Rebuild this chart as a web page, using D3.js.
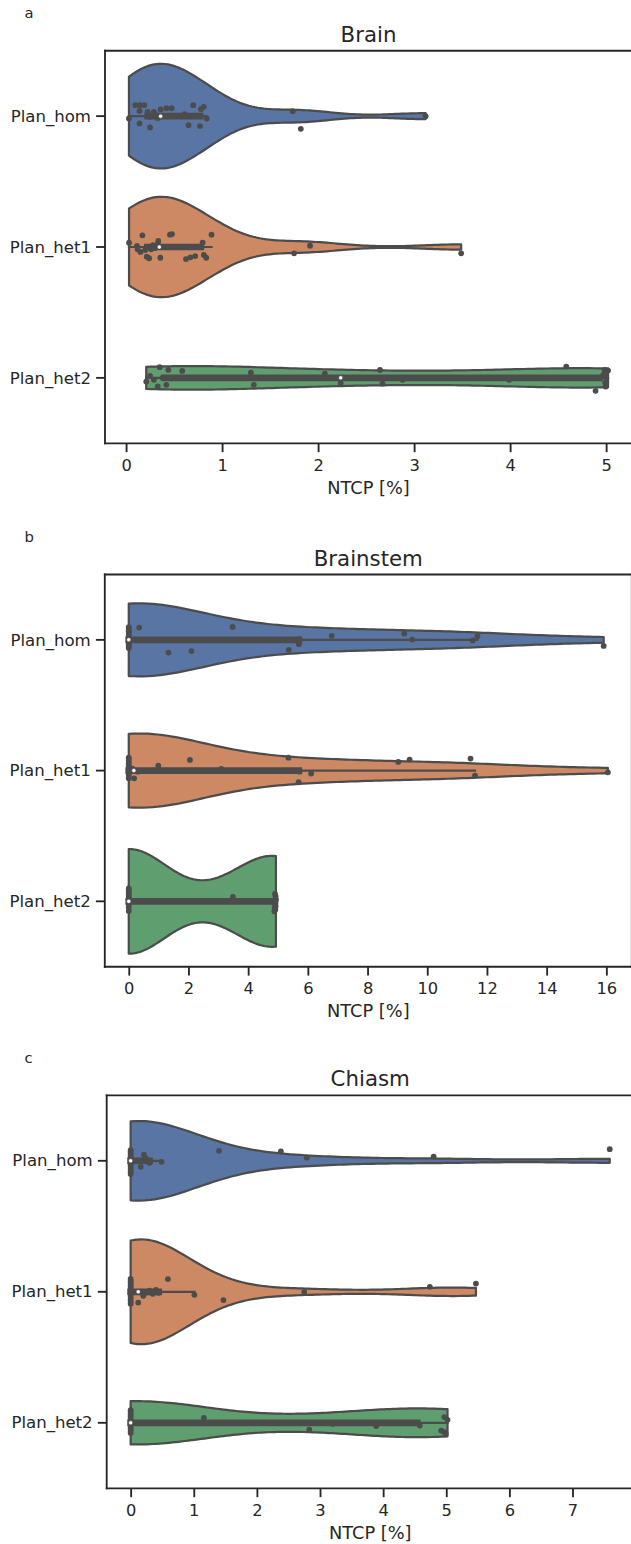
<!DOCTYPE html>
<html>
<head>
<meta charset="utf-8">
<script src="https://cdn.jsdelivr.net/npm/d3@7/dist/d3.min.js"></script>
<style>
html,body{margin:0;padding:0;background:#fff;}
svg{display:block;}
text{font-family:"DejaVu Sans",sans-serif;fill:#262626;}
</style>
</head>
<body>
<svg id="chart" width="631" height="1544"></svg>
<script>
// ---------------- data ----------------
const categories = ["Plan_hom", "Plan_het1", "Plan_het2"];
const panelLetters = ["a", "b", "c"];
const panelTitles = ["Brain", "Brainstem", "Chiasm"];
const xAxisLabel = "NTCP [%]";
const brainTicks = [0, 1, 2, 3, 4, 5];
const brainstemTicks = [0, 2, 4, 6, 8, 10, 12, 14, 16];
const chiasmTicks = [0, 1, 2, 3, 4, 5, 6, 7];
const violinColors = ["#5975a4", "#cc8963", "#5f9e6e"];

// Brain
const brainHom = [0.03, 0.097, 0.14, 0.14, 0.146, 0.19, 0.225, 0.25, 0.25, 0.29, 0.31, 0.33, 0.36, 0.42, 0.475, 0.61, 0.65, 0.70, 0.77, 0.78, 0.81, 0.84, 1.736, 1.82, 3.12];
const brainHomJitter = [0.018, -0.084, -0.040, 0.056, -0.084, -0.084, -0.033, 0.005, 0.086, -0.033, -0.008, 0.015, -0.051, -0.061, -0.061, -0.015, 0.069, -0.084, 0.076, -0.053, -0.071, 0.018, -0.038, 0.097, 0.0];
const brainHet1 = [0.031, 0.114, 0.12, 0.15, 0.17, 0.2, 0.215, 0.24, 0.26, 0.28, 0.30, 0.33, 0.335, 0.357, 0.457, 0.478, 0.624, 0.67, 0.72, 0.797, 0.81, 0.835, 0.89, 1.75, 1.916, 3.49];
const brainHet1Jitter = [-0.033, -0.008, 0.018, 0.038, -0.089, 0.023, 0.074, 0.086, 0.018, -0.015, 0.008, -0.023, -0.046, 0.082, -0.094, -0.099, 0.092, 0.079, 0.069, -0.033, 0.061, 0.082, -0.094, 0.048, -0.010, 0.048];
const brainHet2 = [0.21, 0.25, 0.29, 0.33, 0.35, 0.38, 0.385, 0.42, 0.44, 0.585, 1.30, 1.33, 2.07, 2.235, 2.645, 2.67, 2.88, 3.99, 4.585, 4.89, 4.97, 4.985, 4.99, 4.995, 5.0, 5.0, 5.02];
const brainHet2Jitter = [0.028, -0.015, 0.015, 0.066, -0.082, 0.0, -0.002, 0.053, -0.061, -0.053, -0.040, 0.053, -0.033, 0.040, -0.061, 0.044, 0.015, 0.015, -0.086, 0.099, -0.023, -0.061, 0.036, 0.066, 0.0, -0.038, -0.056];

// Brainstem
const brainstemHom = [0, 0, 0, 0, 0, 0, 0, 0, 0, 0, 0, 0, 0, 0, 0, 0.35, 1.33, 2.10, 3.48, 5.36, 5.70, 5.72, 6.80, 9.23, 9.50, 11.52, 11.68, 15.91];
const brainstemHomJitter = [-0.097, -0.079, -0.066, -0.060, -0.044, -0.034, -0.024, -0.009, 0.002, 0.013, 0.022, 0.031, 0.043, 0.055, 0.063, -0.094, 0.097, 0.086, -0.099, 0.076, 0.033, -0.005, -0.031, -0.048, -0.002, 0.005, -0.028, 0.046];
const brainstemHet1 = [0, 0, 0, 0, 0, 0, 0, 0, 0, 0, 0, 0, 0.12, 0.16, 0.18, 0.3, 0.99, 2.05, 3.1, 5.35, 5.69, 5.72, 6.11, 9.03, 9.41, 11.45, 11.6, 16.05];
const brainstemHet1Jitter = [-0.100, -0.093, -0.075, -0.057, -0.045, -0.031, -0.020, -0.006, 0.009, 0.025, 0.041, 0.058, -0.015, 0.0, 0.059, 0.008, -0.038, -0.082, -0.013, -0.099, 0.089, 0.008, 0.023, -0.066, -0.084, -0.092, 0.038, 0.013];
const brainstemHet2 = [0, 0, 0, 0, 0, 0, 0, 0, 0, 0, 0, 3.49, 4.88, 4.89, 4.9, 4.9, 4.9, 4.91, 4.92, 4.92, 4.93];
const brainstemHet2Jitter = [-0.098, -0.080, -0.068, -0.051, -0.035, -0.021, -0.007, 0.011, 0.029, 0.047, 0.073, -0.033, 0.076, 0.051, -0.056, 0.013, 0.023, 0.063, 0.038, -0.038, -0.013];

// Chiasm
const chiasmHom = [0, 0, 0, 0, 0, 0, 0, 0, 0, 0, 0, 0, 0, 0.1, 0.16, 0.21, 0.24, 0.27, 0.3, 0.49, 1.40, 2.38, 2.79, 4.80, 7.59];
const chiasmHomJitter = [-0.082, -0.069, -0.056, -0.040, -0.027, -0.015, -0.003, 0.014, 0.027, 0.044, 0.063, 0.081, 0.100, 0.0, 0.046, -0.046, -0.021, 0.0, 0.015, 0.008, -0.076, -0.071, -0.025, -0.031, -0.089];
const chiasmHet1 = [0, 0, 0, 0, 0, 0, 0, 0, 0, 0, 0, 0, 0, 0.12, 0.2, 0.26, 0.3, 0.35, 0.4, 0.44, 0.45, 0.59, 1.01, 1.47, 2.75, 4.74, 5.47];
const chiasmHet1Jitter = [-0.099, -0.085, -0.071, -0.054, -0.041, -0.024, -0.011, 0.005, 0.018, 0.037, 0.056, 0.075, 0.092, 0.082, 0.031, 0.005, -0.008, 0.015, -0.015, 0.008, 0.0, -0.097, 0.023, 0.063, 0.0, -0.038, -0.063];
const chiasmHet2 = [0, 0, 0, 0, 0, 0, 0, 0, 0, 0, 0, 0, 1.16, 2.83, 3.2, 3.89, 4.5, 4.58, 4.92, 4.97, 4.97, 4.99, 5.02];
const chiasmHet2Jitter = [-0.096, -0.079, -0.063, -0.050, -0.032, -0.018, -0.005, 0.011, 0.028, 0.044, 0.060, 0.077, -0.038, 0.053, 0.008, 0.025, 0.0, 0.021, 0.059, -0.044, 0.071, 0.084, -0.023];

// ---------------- layout / style ----------------
const PT = 1.48;                 // px per point
const GRAY = "#4c4c4c";
const AX_W = 527;
const panels = [
  {letter: panelLetters[0], title: panelTitles[0], ticks: brainTicks,
   values: [brainHom, brainHet1, brainHet2], jitter: [brainHomJitter, brainHet1Jitter, brainHet2Jitter],
   left: 105, top: 50.7, bottom: 443.3},
  {letter: panelLetters[1], title: panelTitles[1], ticks: brainstemTicks,
   values: [brainstemHom, brainstemHet1, brainstemHet2], jitter: [brainstemHomJitter, brainstemHet1Jitter, brainstemHet2Jitter],
   left: 104.8, top: 574.5, bottom: 966.7},
  {letter: panelLetters[2], title: panelTitles[2], ticks: chiasmTicks,
   values: [chiasmHom, chiasmHet1, chiasmHet2], jitter: [chiasmHomJitter, chiasmHet1Jitter, chiasmHet2Jitter],
   left: 106.7, top: 1095.3, bottom: 1488.3}
];

// Gaussian KDE, Scott's rule, cut = 0 (scipy / seaborn style)
function kde(data, gridsize) {
  const n = data.length;
  const sd = d3.deviation(data);
  const bw = sd * Math.pow(n, -0.2);
  const lo = d3.min(data), hi = d3.max(data);
  const norm = 1 / (n * bw * Math.sqrt(2 * Math.PI));
  const out = [];
  for (let i = 0; i < gridsize; i++) {
    const s = lo + (hi - lo) * i / (gridsize - 1);
    let sum = 0;
    for (const v of data) { const z = (s - v) / bw; sum += Math.exp(-0.5 * z * z); }
    out.push({s: s, d: sum * norm});
  }
  return out;
}

const svg = d3.select("#chart");

panels.forEach(p => {
  const g = svg.append("g");
  const all = p.values.flat();
  const mn = d3.min(all), mx = d3.max(all);
  const pad = 0.05 * (mx - mn);
  const x = d3.scaleLinear().domain([mn - pad, mx + pad]).range([p.left, p.left + AX_W]);
  const y = d3.scaleBand().domain(categories).range([p.top, p.bottom]).padding(0);
  const step = y.step();
  const cy = c => y(c) + step / 2;

  // densities, scale="area": normalise by the largest density in the panel
  const dens = p.values.map(v => kde(v, 100));
  const maxD = d3.max(dens, ds => d3.max(ds, e => e.d));

  const plot = g.append("g");
  const medians = [];
  categories.forEach((c, i) => {
    const center = cy(c);
    const hw = e => e.d / maxD * 0.4 * step;
    const area = d3.area()
      .x(e => x(e.s))
      .y0(e => center - hw(e))
      .y1(e => center + hw(e))
      .curve(d3.curveLinear);
    plot.append("path")
      .attr("d", area(dens[i]))
      .attr("fill", violinColors[i])
      .attr("stroke", GRAY)
      .attr("stroke-width", 1.5 * PT)
      .attr("stroke-linejoin", "round");

    // inner box
    const sorted = p.values[i].slice().sort(d3.ascending);
    const q25 = d3.quantileSorted(sorted, 0.25);
    const q50 = d3.quantileSorted(sorted, 0.5);
    const q75 = d3.quantileSorted(sorted, 0.75);
    const lim = 1.5 * (q75 - q25);
    const h1 = d3.min(sorted.filter(v => v >= q25 - lim));
    const h2 = d3.max(sorted.filter(v => v <= q75 + lim));
    plot.append("line")
      .attr("x1", x(h1)).attr("x2", x(h2)).attr("y1", center).attr("y2", center)
      .attr("stroke", GRAY).attr("stroke-width", 1.5 * PT).attr("stroke-linecap", "square");
    plot.append("line")
      .attr("x1", x(q25)).attr("x2", x(q75)).attr("y1", center).attr("y2", center)
      .attr("stroke", GRAY).attr("stroke-width", 4.5 * PT).attr("stroke-linecap", "square");
    medians.push(q50);
  });

  // strip points
  categories.forEach((c, i) => {
    const center = cy(c);
    plot.append("g").selectAll("circle")
      .data(p.values[i].map((v, k) => ({v: v, j: p.jitter[i][k]})))
      .join("circle")
      .attr("cx", d => x(d.v))
      .attr("cy", d => center + d.j * step)
      .attr("r", 2.9)
      .attr("fill", GRAY);
  });

  // median dots (on top)
  categories.forEach((c, i) => {
    plot.append("circle")
      .attr("cx", x(medians[i]))
      .attr("cy", cy(c))
      .attr("r", 2.0)
      .attr("fill", "#fff")
      .attr("stroke", GRAY)
      .attr("stroke-width", 0.4);
  });

  // x axis
  const xa = g.append("g").attr("transform", `translate(0,${p.bottom})`)
    .call(d3.axisBottom(x).tickValues(p.ticks).tickFormat(d3.format("d"))
      .tickSize(6 * PT).tickPadding(3.5 * PT).tickSizeOuter(0));
  xa.select(".domain").remove();
  xa.selectAll(".tick line").attr("stroke", "#262626").attr("stroke-width", 1.25 * PT);
  xa.selectAll(".tick text").attr("y", 27.7).attr("dy", 0)
    .style("font-size", (11 * PT) + "px").attr("fill", "#262626");

  // y axis
  const ya = g.append("g").attr("transform", `translate(${p.left},0)`)
    .call(d3.axisLeft(y).tickSize(6 * PT).tickPadding(3.5 * PT).tickSizeOuter(0));
  ya.select(".domain").remove();
  ya.selectAll(".tick line").attr("stroke", "#262626").attr("stroke-width", 1.25 * PT);
  ya.selectAll(".tick text").attr("dy", "0.34em")
    .style("font-size", (11.2 * PT) + "px").attr("fill", "#262626");

  // spines
  const sw = 1.25 * PT;
  const R = p.left + AX_W;
  const sp = g.append("g").attr("stroke", "#262626").attr("stroke-width", sw).attr("stroke-linecap", "square");
  sp.append("line").attr("x1", p.left).attr("x2", R).attr("y1", p.top).attr("y2", p.top);
  sp.append("line").attr("x1", p.left).attr("x2", R).attr("y1", p.bottom).attr("y2", p.bottom);
  sp.append("line").attr("x1", p.left).attr("x2", p.left).attr("y1", p.top).attr("y2", p.bottom);
  sp.append("line").attr("x1", R).attr("x2", R).attr("y1", p.top).attr("y2", p.bottom);

  // title, x label, panel letter
  const midX = p.left + AX_W / 2;
  g.append("text").attr("x", midX).attr("y", p.top - 9).attr("text-anchor", "middle")
    .style("font-size", (14.4 * PT) + "px").text(p.title);
  g.append("text").attr("x", midX).attr("y", p.bottom + 50.5).attr("text-anchor", "middle")
    .style("font-size", (12 * PT) + "px").text(xAxisLabel);
  g.append("text").attr("x", 24.5).attr("y", p.top - 32.5)
    .style("font-size", (10 * PT) + "px").text(p.letter);
});
</script>
</body>
</html>
